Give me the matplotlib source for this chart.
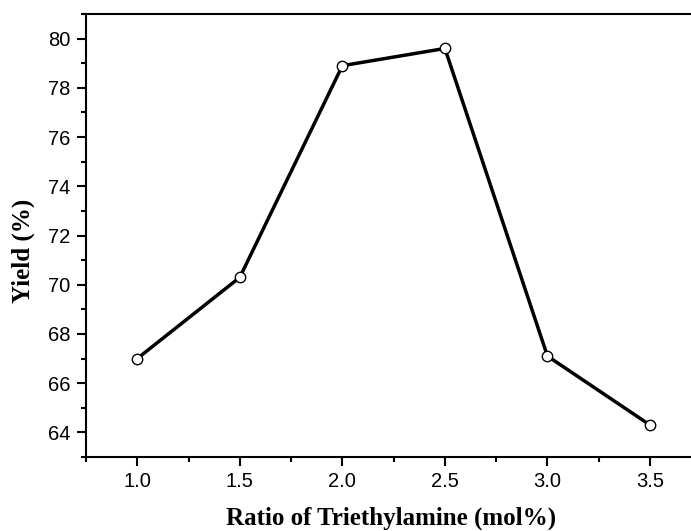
import matplotlib

matplotlib.use("Agg")
import matplotlib.pyplot as plt
from matplotlib.ticker import MultipleLocator

ratio = [1.0, 1.5, 2.0, 2.5, 3.0, 3.5]
yield_pct = [67.0, 70.3, 78.9, 79.6, 67.1, 64.3]

fig = plt.figure(figsize=(6.91, 5.31), dpi=100)
ax = fig.add_axes([86 / 691, 1 - 457 / 531, 1 - 86 / 691, (457 - 14) / 531])

ax.plot(ratio, yield_pct, color="black", lw=2.5, marker="o", markersize=7.5,
        markerfacecolor="white", markeredgecolor="black", markeredgewidth=1)

ax.set_xlim(0.75, 3.70)
ax.set_ylim(63, 81)
ax.xaxis.set_major_locator(MultipleLocator(0.5))
ax.xaxis.set_minor_locator(MultipleLocator(0.25))
ax.yaxis.set_major_locator(MultipleLocator(2))
ax.yaxis.set_minor_locator(MultipleLocator(1))
ax.xaxis.set_major_formatter(plt.FormatStrFormatter("%.1f"))

ax.spines["right"].set_visible(False)
for s in ("left", "bottom", "top"):
    ax.spines[s].set_linewidth(1.5)

ax.tick_params(which="both", direction="out", width=1.5, top=False, right=False,
               labelsize=14.5)
ax.tick_params(which="major", length=6.5)
ax.tick_params(which="minor", length=3.3)
ax.tick_params(axis="y", pad=4.5)
ax.tick_params(axis="x", pad=4)
for lab in ax.get_xticklabels() + ax.get_yticklabels():
    lab.set_fontfamily("Liberation Sans")

ax.set_xlabel("Ratio of Triethylamine (mol%)", fontfamily="Liberation Serif",
              fontweight="bold", fontsize=18)
ax.set_ylabel("Yield (%)", fontfamily="Liberation Serif", fontweight="bold",
              fontsize=18)
ax.xaxis.set_label_coords(0.505, -0.111)
ax.yaxis.set_label_coords(-0.104, 0.465)
ax.yaxis.label.set_va("center")

fig.savefig("out.png", dpi=100)
